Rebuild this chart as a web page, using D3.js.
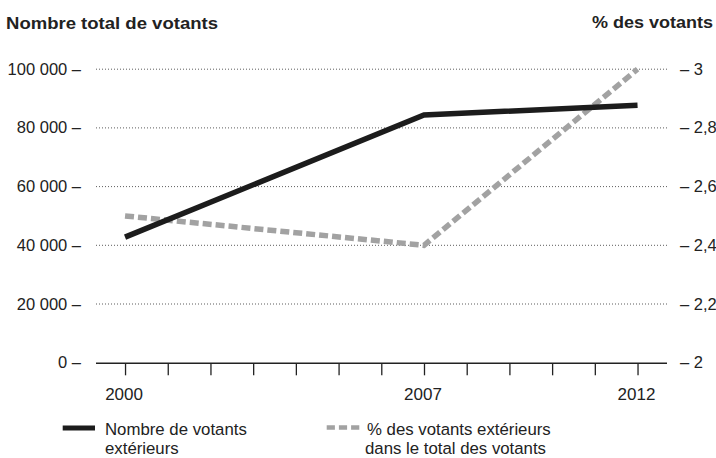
<!DOCTYPE html>
<html><head><meta charset="utf-8">
<script src="https://cdn.jsdelivr.net/npm/d3@7"></script>
<style>
html,body{margin:0;padding:0;background:#fff;}
svg text{font-family:"Liberation Sans",Arial,sans-serif;fill:#222;}
</style></head>
<body>
<svg id="chart" width="716" height="458"></svg>
<script>
const years = [2000, 2007, 2012];
const voters = [42800, 84400, 87700];
const share = [2.50, 2.40, 3.00];
const leftTicks = [0, 20000, 40000, 60000, 80000, 100000];
const leftTickLabels = ["0", "20 000", "40 000", "60 000", "80 000", "100 000"];
const rightTicks = [2, 2.2, 2.4, 2.6, 2.8, 3];
const rightTickLabels = ["2", "2,2", "2,4", "2,6", "2,8", "3"];
const xTickYears = d3.range(2000, 2013);
const xLabelYears = [2000, 2007, 2012];
const leftTitle = "Nombre total de votants";
const rightTitle = "% des votants";
const legendA = ["Nombre de votants", "extérieurs"];
const legendB = ["% des votants extérieurs", "dans le total des votants"];

const svg = d3.select("#chart");
const x = d3.scaleLinear().domain([1999.32, 2012.69]).range([96, 667]);
const yL = d3.scaleLinear().domain([0, 100000]).range([362.7, 69.2]);
const yR = d3.scaleLinear().domain([2, 3]).range([362.7, 69.2]);

// gridlines
svg.append("g").selectAll("line").data(leftTicks.filter(d => d > 0)).join("line")
  .attr("x1", 96).attr("x2", 667)
  .attr("y1", d => yL(d)).attr("y2", d => yL(d))
  .attr("stroke", "#333").attr("stroke-width", 0.8).attr("stroke-dasharray", "1,2");

// left labels
svg.append("g").selectAll("text").data(leftTicks).join("text")
  .attr("x", 81).attr("y", d => yL(d) + 5.5)
  .attr("text-anchor", "end").attr("font-size", 16.5)
  .text((d, i) => leftTickLabels[i] + " –");

// right labels
svg.append("g").selectAll("text").data(rightTicks).join("text")
  .attr("x", 680).attr("y", d => yR(d) + 5.5)
  .attr("text-anchor", "start").attr("font-size", 16.5)
  .text((d, i) => "– " + rightTickLabels[i]);

// x axis
const xAxis = d3.axisBottom(x).tickValues(xTickYears).tickSize(12).tickFormat("");
const gx = svg.append("g").attr("transform", "translate(0,363.3)").call(xAxis);
gx.select(".domain").remove();
gx.selectAll(".tick line").attr("stroke", "#222").attr("stroke-width", 1.3);
svg.append("line").attr("x1", x.range()[0]).attr("x2", x.range()[1])
  .attr("y1", 363.3).attr("y2", 363.3).attr("stroke", "#222").attr("stroke-width", 1.6);
svg.append("g").selectAll("text").data(xLabelYears).join("text")
  .attr("x", d => x(d) - 1).attr("y", 399.5).attr("text-anchor", "middle")
  .attr("font-size", 17).text(d => d);

// titles
svg.append("text").attr("x", 6).attr("y", 29).attr("font-size", 17).attr("font-weight", "bold")
  .attr("textLength", 212).attr("lengthAdjust", "spacingAndGlyphs").text(leftTitle);
svg.append("text").attr("x", 713).attr("y", 28).attr("font-size", 17).attr("font-weight", "bold")
  .attr("text-anchor", "end").attr("textLength", 121).attr("lengthAdjust", "spacingAndGlyphs").text(rightTitle);

// lines
const lineL = d3.line().x((d, i) => x(years[i])).y(d => yL(d));
const lineR = d3.line().x((d, i) => x(years[i])).y(d => yR(d));
svg.append("path").datum(share).attr("d", lineR).attr("fill", "none")
  .attr("stroke", "#a2a2a2").attr("stroke-width", 5.5).attr("stroke-dasharray", "9,4");
svg.append("path").datum(voters).attr("d", lineL).attr("fill", "none")
  .attr("stroke", "#1c1c1c").attr("stroke-width", 5.5).attr("stroke-linejoin", "miter");

// legend
svg.append("line").attr("x1", 62.7).attr("x2", 95).attr("y1", 428).attr("y2", 428)
  .attr("stroke", "#1c1c1c").attr("stroke-width", 5);
svg.append("text").attr("font-size", 16.8).selectAll("tspan").data(legendA).join("tspan")
  .attr("x", 105).attr("y", (d, i) => 434.5 + i * 19.5).text(d => d);
svg.append("line").attr("x1", 326.7).attr("x2", 359.3).attr("y1", 427.5).attr("y2", 427.5)
  .attr("stroke", "#a2a2a2").attr("stroke-width", 4.3).attr("stroke-dasharray", "8.2,4");
svg.append("text").attr("font-size", 16.8).selectAll("tspan").data(legendB).join("tspan")
  .attr("x", (d, i) => i === 0 ? 367 : 365).attr("y", (d, i) => 434.5 + i * 19.5).text(d => d);
</script>
</body></html>
